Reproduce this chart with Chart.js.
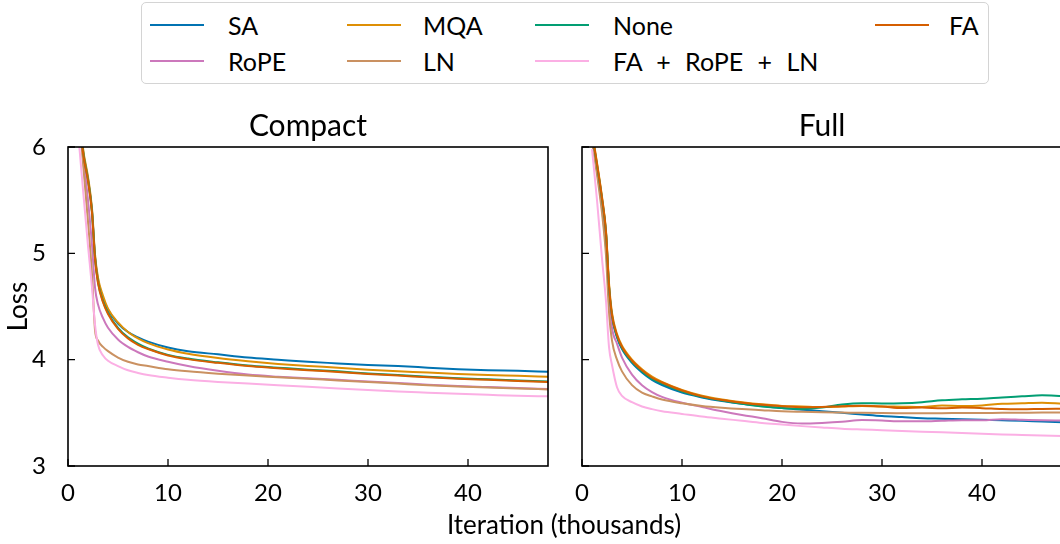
<!DOCTYPE html>
<html><head><meta charset="utf-8">
<script src="https://cdn.jsdelivr.net/npm/chart.js@4.4.0/dist/chart.umd.min.js"></script>
<style>
html,body{margin:0;padding:0;background:#fff;overflow:hidden;width:1060px;height:544px;}
#wrap{position:relative;width:1060px;height:544px;overflow:hidden;font-family:Lato,sans-serif;color:#000;}
canvas{position:absolute;}
.t{position:absolute;white-space:nowrap;transform:translate(-50%,-50%);line-height:1;}
#legend{position:absolute;left:141px;top:2px;width:848px;height:82px;box-sizing:border-box;border:1.3px solid #d4d4d4;border-radius:5px;background:#fff;}
.lg-line{position:absolute;height:2px;width:54px;}
.lg-text{position:absolute;font-size:25px;line-height:1;transform:translateY(-50%);white-space:nowrap;word-spacing:8px;}
</style></head>
<body>
<div id="wrap">
  <canvas id="c1" width="560" height="444" style="left:0;top:100px;width:560px;height:444px"></canvas>
  <canvas id="c2" width="520" height="444" style="left:560px;top:100px;width:520px;height:444px"></canvas>
  <div id="legend"></div>
  <div class="t" id="title1" style="left:308px;top:124px;font-size:30px"></div>
  <div class="t" id="title2" style="left:822px;top:124px;font-size:30px"></div>
  <div class="t" style="left:564px;top:524px;font-size:26px">Iteration (thousands)</div>
</div>
<script>
// ---------------- data ----------------
const seriesNames = ['SA', 'RoPE', 'MQA', 'LN', 'None', 'FA + RoPE + LN', 'FA'];
const seriesColors = ['#0173b2', '#cc78bc', '#de8f05', '#ca9161', '#029e73', '#fbafe4', '#d55e00'];
const xTicks = [0, 10, 20, 30, 40];
const yTicks = [3, 4, 5, 6];
const panelTitles = ['Compact', 'Full'];

const itersCompact = [1, 1.5, 2, 2.4, 2.7, 3, 3.5, 4, 5, 6, 7, 8, 10, 12, 15, 18, 21, 24, 27, 30, 33, 36, 39, 42, 45, 48];
const compactSA   = [6.5, 5.97, 5.70, 5.40, 4.97, 4.75, 4.58, 4.47, 4.34, 4.26, 4.21, 4.17, 4.115, 4.08, 4.05, 4.02, 4.00, 3.98, 3.965, 3.95, 3.94, 3.925, 3.91, 3.90, 3.895, 3.887];
const compactRoPE = [6.45, 5.95, 5.50, 5.08, 4.68, 4.52, 4.39, 4.30, 4.19, 4.12, 4.07, 4.03, 3.98, 3.94, 3.895, 3.86, 3.84, 3.825, 3.81, 3.795, 3.78, 3.765, 3.752, 3.742, 3.733, 3.725];
const compactMQA  = [6.52, 5.99, 5.72, 5.42, 4.99, 4.77, 4.60, 4.48, 4.35, 4.26, 4.20, 4.155, 4.095, 4.055, 4.015, 3.985, 3.96, 3.94, 3.925, 3.905, 3.89, 3.88, 3.865, 3.855, 3.848, 3.84];
const compactLN   = [6.4, 5.85, 5.30, 4.80, 4.28, 4.18, 4.12, 4.08, 4.02, 3.98, 3.955, 3.94, 3.91, 3.89, 3.868, 3.85, 3.835, 3.82, 3.805, 3.79, 3.775, 3.76, 3.748, 3.738, 3.73, 3.72];
const compactNone = [6.48, 5.96, 5.69, 5.39, 4.96, 4.73, 4.55, 4.44, 4.30, 4.21, 4.15, 4.105, 4.045, 4.01, 3.975, 3.945, 3.925, 3.905, 3.89, 3.87, 3.855, 3.84, 3.825, 3.815, 3.805, 3.795];
const compactFARL = [6.15, 5.60, 5.07, 4.68, 4.33, 4.14, 4.04, 3.99, 3.94, 3.90, 3.875, 3.855, 3.83, 3.81, 3.79, 3.775, 3.76, 3.745, 3.73, 3.715, 3.70, 3.69, 3.68, 3.67, 3.66, 3.655];
const compactFA   = [6.47, 5.95, 5.68, 5.38, 4.95, 4.72, 4.54, 4.43, 4.29, 4.20, 4.14, 4.10, 4.04, 4.005, 3.97, 3.94, 3.92, 3.90, 3.885, 3.865, 3.85, 3.835, 3.82, 3.81, 3.80, 3.79];

const itersFull = [1, 1.5, 2, 2.4, 2.7, 3, 3.5, 4, 5, 6, 7, 8, 10, 12, 14, 16, 18, 20, 22, 24, 26, 28, 30, 32, 34, 36, 38, 40, 42, 44, 46, 48];
const fullSA   = [6.12, 5.82, 5.50, 5.18, 4.68, 4.40, 4.21, 4.10, 3.97, 3.88, 3.81, 3.76, 3.69, 3.645, 3.61, 3.585, 3.565, 3.545, 3.53, 3.515, 3.50, 3.485, 3.47, 3.46, 3.45, 3.445, 3.44, 3.435, 3.43, 3.425, 3.418, 3.412];
const fullRoPE = [6.08, 5.78, 5.42, 5.05, 4.60, 4.30, 4.15, 4.02, 3.86, 3.76, 3.695, 3.65, 3.595, 3.555, 3.515, 3.48, 3.45, 3.415, 3.40, 3.405, 3.415, 3.432, 3.428, 3.42, 3.42, 3.425, 3.43, 3.43, 3.44, 3.435, 3.43, 3.427];
const fullMQA  = [6.15, 5.85, 5.53, 5.21, 4.72, 4.44, 4.24, 4.13, 4.00, 3.91, 3.84, 3.79, 3.715, 3.66, 3.625, 3.60, 3.58, 3.565, 3.56, 3.555, 3.56, 3.565, 3.56, 3.558, 3.555, 3.57, 3.565, 3.57, 3.585, 3.59, 3.595, 3.585];
const fullLN   = [6.05, 5.74, 5.38, 4.98, 4.45, 4.18, 4.00, 3.89, 3.76, 3.69, 3.655, 3.625, 3.59, 3.565, 3.548, 3.535, 3.525, 3.515, 3.51, 3.506, 3.503, 3.50, 3.498, 3.497, 3.496, 3.497, 3.498, 3.499, 3.50, 3.501, 3.502, 3.502];
const fullNone = [6.12, 5.83, 5.51, 5.19, 4.69, 4.41, 4.22, 4.11, 3.98, 3.89, 3.82, 3.775, 3.70, 3.65, 3.615, 3.585, 3.56, 3.545, 3.537, 3.55, 3.578, 3.59, 3.588, 3.59, 3.60, 3.618, 3.627, 3.633, 3.645, 3.655, 3.665, 3.658];
const fullFARL = [5.98, 5.50, 4.95, 4.55, 4.12, 3.95, 3.74, 3.66, 3.60, 3.56, 3.535, 3.515, 3.49, 3.465, 3.445, 3.425, 3.405, 3.39, 3.375, 3.362, 3.35, 3.343, 3.337, 3.33, 3.323, 3.317, 3.31, 3.303, 3.297, 3.292, 3.287, 3.282];
const fullFA   = [6.13, 5.84, 5.52, 5.20, 4.70, 4.42, 4.23, 4.12, 3.99, 3.90, 3.83, 3.785, 3.71, 3.655, 3.62, 3.595, 3.575, 3.562, 3.553, 3.555, 3.563, 3.567, 3.56, 3.545, 3.55, 3.542, 3.549, 3.544, 3.535, 3.533, 3.537, 3.539];

const compactSeries = [compactSA, compactRoPE, compactMQA, compactLN, compactNone, compactFARL, compactFA];
const fullSeries = [fullSA, fullRoPE, fullMQA, fullLN, fullNone, fullFARL, fullFA];

document.getElementById('title1').textContent = panelTitles[0];
document.getElementById('title2').textContent = panelTitles[1];

// ---------------- legend ----------------
(function buildLegend(){
  const lg = document.getElementById('legend');
  const colLine = [8, 205, 393, 733];   // relative to legend box
  const colText = [86, 281, 471, 807];
  const rowY = [22, 58];
  seriesNames.forEach((name, i) => {
    const c = Math.floor(i / 2), r = i % 2;
    const ln = document.createElement('div');
    ln.className = 'lg-line';
    ln.style.left = colLine[c] + 'px';
    ln.style.top = (rowY[r] - 1) + 'px';
    ln.style.background = seriesColors[i];
    lg.appendChild(ln);
    const tx = document.createElement('div');
    tx.className = 'lg-text';
    tx.style.left = colText[c] + 'px';
    tx.style.top = rowY[r] + 'px';
    tx.textContent = name;
    lg.appendChild(tx);
  });
})();

// ---------------- charts ----------------
Chart.defaults.font.family = 'Lato, sans-serif';
Chart.defaults.color = '#000';

const frameTicks = {
  id: 'frameTicks',
  afterDatasetsDraw(chart) {
    const {ctx, chartArea: a, scales} = chart;
    ctx.save();
    ctx.strokeStyle = '#000';
    ctx.lineWidth = 1.6;
    ctx.strokeRect(a.left, a.top, a.right - a.left, a.bottom - a.top);
    const L = 7;
    ctx.beginPath();
    scales.x.ticks.forEach(t => {
      const p = scales.x.getPixelForValue(t.value);
      ctx.moveTo(p, a.bottom); ctx.lineTo(p, a.bottom - L);
    });
    scales.y.ticks.forEach(t => {
      const p = scales.y.getPixelForValue(t.value);
      ctx.moveTo(a.left, p); ctx.lineTo(a.left + L, p);
    });
    ctx.lineWidth = 1.3;
    ctx.stroke();
    ctx.restore();
  }
};

function makeChart(id, iters, series, showY, yWidth, padRight) {
  const datasets = series.map((vals, i) => ({
    label: seriesNames[i],
    data: vals.map((v, k) => ({x: iters[k], y: v})),
    borderColor: seriesColors[i],
    backgroundColor: seriesColors[i],
    borderWidth: 2,
    pointRadius: 0,
    fill: false,
    cubicInterpolationMode: 'monotone',
    order: seriesNames.length - 1 - i
  }));
  return new Chart(document.getElementById(id), {
    type: 'line',
    data: {datasets},
    options: {
      responsive: false,
      animation: false,
      devicePixelRatio: 1,
      layout: {padding: {left: 0, top: 47, right: padRight, bottom: 0}},
      plugins: {legend: {display: false}, tooltip: {enabled: false}, title: {display: false}},
      scales: {
        x: {
          type: 'linear', min: 0, max: 48,
          afterBuildTicks: s => { s.ticks = xTicks.map(v => ({value: v})); },
          afterFit: s => { s.height = 78; },
          grid: {display: false},
          border: {display: false},
          ticks: {font: {size: 24}, padding: 5, maxRotation: 0, color: '#000'}
        },
        y: {
          type: 'linear', min: 3, max: 6,
          afterBuildTicks: s => { s.ticks = yTicks.map(v => ({value: v})); },
          afterFit: s => { s.width = yWidth; },
          grid: {display: false},
          border: {display: false},
          title: {display: showY, text: 'Loss', font: {size: 26}, padding: {top: 3, bottom: 0}, color: '#000'},
          ticks: {display: showY, font: {size: 24}, padding: 14, color: '#000'}
        }
      }
    },
    plugins: [frameTicks]
  });
}

makeChart('c1', itersCompact, compactSeries, true, 68, 12);
makeChart('c2', itersFull, fullSeries, false, 22, 18);
</script>
</body></html>
